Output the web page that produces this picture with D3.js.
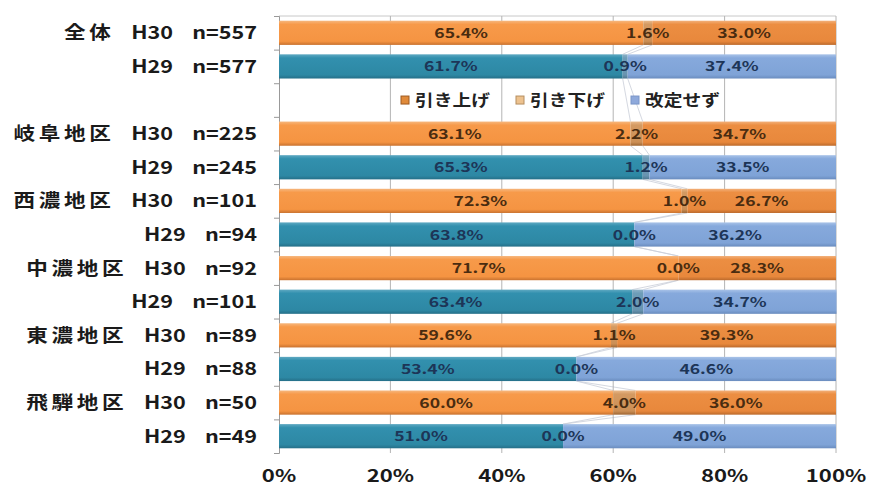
<!DOCTYPE html>
<html><head><meta charset="utf-8">
<script src="https://cdn.jsdelivr.net/npm/d3@7"></script>
<style>body{margin:0;background:#fff}svg{display:block}</style>
</head><body>
<script>
const regions = ["全体","","","岐阜地区","","西濃地区","","中濃地区","","東濃地区","","飛騨地区",""];
const years   = ["H30","H29","","H30","H29","H30","H29","H30","H29","H30","H29","H30","H29"];
const counts  = ["n=557","n=577","","n=225","n=245","n=101","n=94","n=92","n=101","n=89","n=88","n=50","n=49"];
const raised  = [65.4,61.7,null,63.1,65.3,72.3,63.8,71.7,63.4,59.6,53.4,60.0,51.0];
const lowered = [1.6,0.9,null,2.2,1.2,1.0,0.0,0.0,2.0,1.1,0.0,4.0,0.0];
const kept    = [33.0,37.4,null,34.7,33.5,26.7,36.2,28.3,34.7,39.3,46.6,36.0,49.0];
const seriesNames = ["引き上げ","引き下げ","改定せず"];
const xTicks = [0,20,40,60,80,100];

const W=881,H=490;
const svg=d3.select("body").append("svg").attr("width",W).attr("height",H);
const font='"Noto Sans CJK JP","Noto Sans",sans-serif';
const x=d3.scaleLinear().domain([0,100]).range([279,836]);
const y=d3.scaleBand().domain(d3.range(13)).range([16,453]).paddingInner(0.28).paddingOuter(0.14);
function stext(parent,tx,ty,size,anchor,fill,sx){
 return parent.append("text").attr("transform",`translate(${tx},${ty}) scale(${sx},1)`)
  .attr("text-anchor",anchor).attr("font-family",font).attr("font-weight","bold").attr("font-size",size).attr("fill",fill);
}

const defs=svg.append("defs");
function grad(id,stops){const g=defs.append("linearGradient").attr("id",id).attr("x1",0).attr("y1",0).attr("x2",0).attr("y2",1);
 stops.forEach(s=>g.append("stop").attr("offset",s[0]).attr("stop-color",s[1]));}
grad("o1",[[0,"#F6B77E"],[0.15,"#F79A4A"],[0.85,"#F59442"],[1,"#C9722F"]]);
grad("o2",[[0,"#E9B98A"],[0.15,"#D49A62"],[0.85,"#CC8F55"],[1,"#9E6633"]]);
grad("o3",[[0,"#F2B07A"],[0.15,"#EC8E42"],[0.85,"#E8883C"],[1,"#BC6A2C"]]);
grad("b1",[[0,"#5FA9C2"],[0.15,"#3290AE"],[0.85,"#2D88A4"],[1,"#256F88"]]);
grad("b2",[[0,"#8DB2C8"],[0.15,"#6E9DB8"],[0.85,"#6894B0"],[1,"#4E7790"]]);
grad("b3",[[0,"#A9C3E8"],[0.15,"#86A9DC"],[0.85,"#7FA3D7"],[1,"#6A8CBE"]]);

// grid
const g=svg.append("g");
g.append("line").attr("x1",x(0)).attr("x2",x(100)).attr("y1",16).attr("y2",16).attr("stroke","#c8c8c8");
xTicks.slice(1).forEach(t=>g.append("line").attr("x1",x(t)).attr("x2",x(t)).attr("y1",16).attr("y2",453).attr("stroke","#b4b4b4"));
// left axis
const ax=d3.axisLeft(d3.scaleLinear().domain([0,13]).range([16,453])).ticks(13).tickSize(5).tickFormat("");
const axg=svg.append("g").attr("transform",`translate(${x(0)},0)`).call(ax);
axg.selectAll("path,line").attr("stroke","#999");

const rows=d3.range(13).filter(i=>raised[i]!==null);
// series lines
const sl=svg.append("g").attr("stroke","#a7afc0").attr("stroke-width",0.8).attr("opacity",0.6);
for(let k=0;k<rows.length-1;k++){const a=rows[k],b=rows[k+1];
 [[raised[a],raised[b]],[raised[a]+lowered[a],raised[b]+lowered[b]]].forEach(p=>{
  sl.append("line").attr("x1",x(p[0])).attr("x2",x(p[1])).attr("y1",y(a)+y.bandwidth()).attr("y2",y(b));});}

const bars=svg.append("g");
rows.forEach(i=>{
 const isH30=years[i]==="H30";
 const vals=[raised[i],lowered[i],kept[i]];
 const fills=isH30?["o1","o2","o3"]:["b1","b2","b3"];
 let c=0;
 vals.forEach((v,j)=>{
  bars.append("rect").attr("x",x(c)).attr("y",y(i)).attr("width",Math.max(0,x(c+v)-x(c))).attr("height",y.bandwidth()).attr("fill",`url(#${fills[j]})`);
  c+=v;});
 c=0;
 vals.forEach((v,j)=>{
  stext(bars,x(c+v/2),y(i)+y.bandwidth()/2+5,13.5,"middle",isH30?"#4a2c10":"#1d3557",1.3).text(v.toFixed(1)+"%");
  c+=v;});
});

// left labels
rows.forEach(i=>{
 const t=stext(svg,257,y(i)+y.bandwidth()/2+6.5,18,"end","#1a1a1a",1.2);
 if(regions[i]) t.append("tspan").attr("letter-spacing",3).text(regions[i]);
 t.append("tspan").attr("letter-spacing",0).attr("dx",regions[i]?14:0).text(years[i]);
 t.append("tspan").attr("dx",16).text(counts[i]);
});

// legend
const lg=svg.append("g");
const lx=[401,516,631], lcol=[["#E08A3A","#9E5A20"],["#EDC28F","#B58E60"],["#8EA9DB","#7A95C8"]];
seriesNames.forEach((s,j)=>{
 lg.append("rect").attr("x",lx[j]).attr("y",y(2)+y.bandwidth()/2-4).attr("width",8).attr("height",8).attr("fill",lcol[j][0]).attr("stroke",lcol[j][1]).attr("stroke-width",1);
 stext(lg,lx[j]+14,y(2)+y.bandwidth()/2+6,16,"start","#222",1.17).text(s);
});

// bottom tick labels
xTicks.forEach(d=>stext(svg,x(d),482,17,"middle","#1a1a1a",1.3).text(d+"%"));
</script>
</body></html>
